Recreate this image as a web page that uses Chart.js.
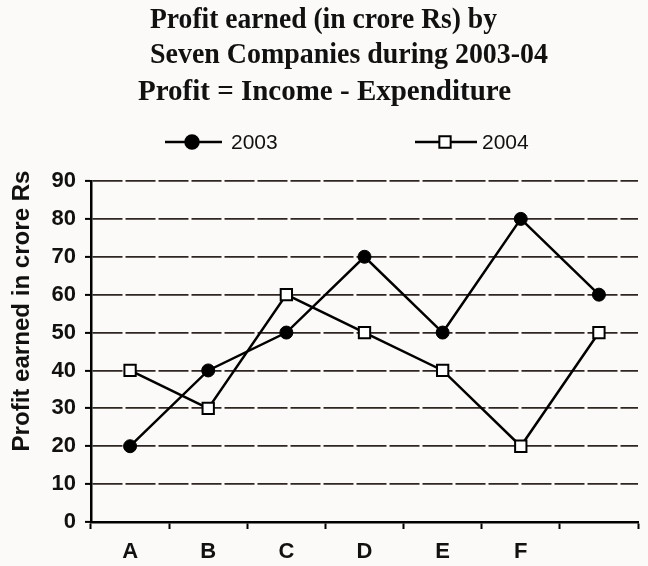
<!DOCTYPE html>
<html>
<head>
<meta charset="utf-8">
<script src="https://cdn.jsdelivr.net/npm/chart.js@4/dist/chart.umd.min.js"></script>
<style>
  html, body { margin: 0; padding: 0; background: #fcfaf8; }
  canvas { display: block; }
</style>
</head>
<body>
<canvas id="c" width="648" height="566"></canvas>
<script>
// ---- data ----
const categories = ['A', 'B', 'C', 'D', 'E', 'F', ''];
const profit2003 = [20, 40, 50, 70, 50, 80, 60];
const profit2004 = [40, 30, 60, 50, 40, 20, 50];
const seriesNames = ['2003', '2004'];
const yMin = 0, yMax = 90, yStep = 10;
const titleLines = [
  'Profit earned (in crore Rs) by',
  'Seven Companies during 2003-04',
  'Profit = Income - Expenditure'
];
const yTitle = 'Profit earned in crore Rs';

const SANS = '"Liberation Sans", Arial, sans-serif';
const SERIF = '"Liberation Serif", "Times New Roman", serif';

function fitText(ctx, text, x, y, targetW) {
  const w = ctx.measureText(text).width;
  ctx.save();
  ctx.translate(x, y);
  ctx.scale(targetW / w, 1);
  ctx.fillText(text, 0, 0);
  ctx.restore();
}

const decor = {
  id: 'decor',
  beforeDraw(chart) {
    const ctx = chart.ctx;
    ctx.save();
    ctx.fillStyle = '#fcfaf8';
    ctx.fillRect(0, 0, chart.width, chart.height);
    ctx.restore();
  },
  afterDraw(chart) {
    const ctx = chart.ctx;
    ctx.save();
    ctx.fillStyle = '#111';
    // title
    ctx.font = 'bold 29px ' + SERIF;
    ctx.textAlign = 'left';
    ctx.textBaseline = 'alphabetic';
    const tpos = [{x: 150, y: 28, w: 347}, {x: 150, y: 63, w: 398}, {x: 138, y: 100, w: 373}];
    titleLines.forEach((t, i) => fitText(ctx, t, tpos[i].x, tpos[i].y, tpos[i].w));

    // y-axis title
    ctx.save();
    ctx.translate(23, 311);
    ctx.rotate(-Math.PI / 2);
    ctx.font = 'bold 23px ' + SANS;
    ctx.textAlign = 'center';
    ctx.textBaseline = 'middle';
    const w = ctx.measureText(yTitle).width;
    ctx.scale(281 / w, 1);
    ctx.fillText(yTitle, 0, 0);
    ctx.restore();

    // legend
    const ly = 142;
    ctx.strokeStyle = '#000';
    ctx.lineWidth = 2.5;
    ctx.beginPath(); ctx.moveTo(165, ly); ctx.lineTo(222, ly); ctx.stroke();
    ctx.beginPath(); ctx.moveTo(415, ly); ctx.lineTo(477, ly); ctx.stroke();
    ctx.fillStyle = '#000';
    Chart.helpers.drawPoint(ctx, {pointStyle: 'circle', radius: 6.5, borderWidth: 2}, 192, ly);
    ctx.fillStyle = '#fff';
    ctx.lineWidth = 2;
    Chart.helpers.drawPoint(ctx, {pointStyle: 'rect', radius: 8, borderWidth: 2}, 445, ly);
    ctx.fillStyle = '#111';
    ctx.font = '21px ' + SANS;
    ctx.textAlign = 'left';
    ctx.textBaseline = 'middle';
    ctx.fillText(seriesNames[0], 231, ly + 1);
    ctx.fillText(seriesNames[1], 482, ly + 1);
    ctx.restore();
  }
};

new Chart(document.getElementById('c'), {
  type: 'line',
  data: {
    labels: categories,
    datasets: [
      {
        label: seriesNames[0],
        data: profit2003,
        borderColor: '#000',
        borderWidth: 2.5,
        pointStyle: 'circle',
        pointRadius: 6.5,
        pointBackgroundColor: '#000',
        pointBorderColor: '#000',
        pointBorderWidth: 1,
        tension: 0,
        fill: false
      },
      {
        label: seriesNames[1],
        data: profit2004,
        borderColor: '#000',
        borderWidth: 2.5,
        pointStyle: 'rect',
        pointRadius: 8,
        pointBackgroundColor: '#fff',
        pointBorderColor: '#000',
        pointBorderWidth: 2,
        tension: 0,
        fill: false
      }
    ]
  },
  options: {
    responsive: false,
    animation: false,
    devicePixelRatio: 1,
    layout: { padding: { top: 181, left: 0, right: 10, bottom: 0 } },
    plugins: {
      legend: { display: false },
      title: { display: false },
      tooltip: { enabled: false }
    },
    scales: {
      x: {
        offset: true,
        afterFit(scale) { scale.height = 44; },
        grid: {
          offset: true,
          drawOnChartArea: false,
          drawTicks: true,
          tickLength: 7,
          tickColor: '#000',
          tickWidth: 2
        },
        border: { display: true, color: '#000', width: 2.5 },
        ticks: {
          color: '#111',
          padding: 10,
          font: { family: SANS, size: 22, weight: 'bold' },
          maxRotation: 0,
          autoSkip: false
        }
      },
      y: {
        min: yMin,
        max: yMax,
        afterFit(scale) { scale.width = 91; },
        grid: {
          color: '#2e2622',
          lineWidth: 1.8,
          drawTicks: true,
          tickLength: 6,
          tickColor: '#000',
          tickWidth: 2
        },
        border: { display: true, color: '#000', width: 2.5, dash: [30, 3] },
        ticks: {
          stepSize: yStep,
          color: '#111',
          padding: 9,
          font: { family: SANS, size: 22, weight: 'bold' }
        }
      }
    }
  },
  plugins: [decor]
});
</script>
</body>
</html>
